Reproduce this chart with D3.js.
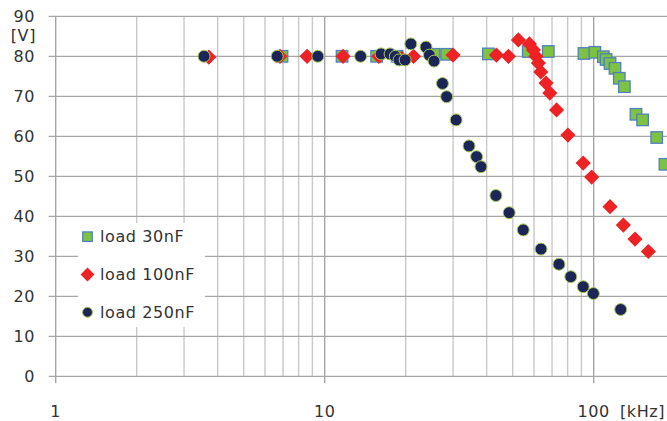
<!DOCTYPE html>
<html>
<head>
<meta charset="utf-8">
<script src="https://cdn.jsdelivr.net/npm/d3@7"></script>
<style>
    body { margin: 0; background: #fff; }
    svg { display: block; font-family: "DejaVu Sans", Verdana, sans-serif; }
    text { font-size: 16px; fill: #333; letter-spacing: 0.6px; }
</style>
</head>
<body>
<svg id="graph" width="667" height="421"></svg>
<script>
// frequency [kHz] / voltage [V] per load
const freq30 = [6.94, 11.6, 15.6, 18.6, 25.5, 28.4, 40.6, 57.1, 67.8, 92, 101, 108.6, 111.2, 115, 120, 124.5, 130, 143.6, 152, 171.5, 184];
const volt30 = [80, 80, 80, 80, 80.5, 80.5, 80.6, 81.2, 81.2, 80.7, 81, 79.9, 79.2, 78.2, 77, 74.5, 72.4, 65.5, 64.1, 59.7, 53];

const freq100 = [3.71, 6.82, 8.6, 11.7, 15.9, 19.3, 21.4, 30, 43.5, 48.2, 52.5, 57.7, 59.7, 61, 62.3, 63.6, 66.5, 68.7, 72.8, 80.2, 91.4, 98.3, 115, 128.9, 142.4, 159.7];
const volt100 = [79.8, 80, 80, 80, 80, 79.5, 80, 80.3, 80.3, 80, 84.1, 83.1, 81.6, 80, 78.3, 76.1, 73.3, 70.8, 66.6, 60.3, 53.3, 49.8, 42.4, 37.8, 34.3, 31.2];

const freq250 = [3.56, 6.66, 9.43, 13.6, 16.2, 17.5, 18.3, 18.9, 19.9, 20.9, 23.8, 24.5, 25.5, 27.4, 28.4, 30.8, 34.4, 36.7, 38.1, 43.3, 48.5, 54.7, 63.7, 74.3, 82.2, 91.4, 99.7, 126];
const volt250 = [80, 80, 80, 80, 80.6, 80.6, 80, 79.1, 79.1, 83.1, 82.3, 80.3, 78.8, 73.2, 69.9, 64.1, 57.6, 54.9, 52.4, 45.2, 40.9, 36.6, 31.8, 28, 24.9, 22.4, 20.7, 16.7];

const seriesNames = ['load 30nF', 'load 100nF', 'load 250nF'];
const xTickLabels = [1, 10, 100];
const yTicks = [0, 10, 20, 30, 40, 50, 60, 70, 80, 90];

(function () {
    let svg = d3.select('#graph');
    let x0 = 55.7, decade = 269;

    let position = {
        x: d3.scaleLog().domain([1, 1000]).range([x0, x0 + decade * 3]),
        y: d3.scaleLinear().domain([0, 90]).range([376.3, 16.3])
    };

    let series = [
        { name: seriesNames[0], shape: 'square', values: freq30.map((f, i) => ({ f: f, v: volt30[i] })) },
        { name: seriesNames[1], shape: 'diamond', values: freq100.map((f, i) => ({ f: f, v: volt100[i] })) },
        { name: seriesNames[2], shape: 'circle', values: freq250.map((f, i) => ({ f: f, v: volt250[i] })) }
    ];

    // minor / major vertical grid
    let minor = [];
    [1, 10, 100].forEach(d => { for (let k = 2; k <= 9; ++k) minor.push(d * k); });

    svg.append('g').selectAll('line')
        .data(minor)
        .enter().append('line')
        .attr('x1', d => position.x(d)).attr('x2', d => position.x(d))
        .attr('y1', position.y(90)).attr('y2', position.y(0))
        .style('stroke', '#c8c8c8')
        .style('stroke-width', '1.4px')
    ;

    svg.append('g').selectAll('line')
        .data(yTicks)
        .enter().append('line')
        .attr('x1', x0 - 7).attr('x2', 667)
        .attr('y1', d => position.y(d)).attr('y2', d => position.y(d))
        .style('stroke', '#a6a6a6')
        .style('stroke-width', '1.2px')
    ;

    svg.append('g').selectAll('line')
        .data(xTickLabels)
        .enter().append('line')
        .attr('x1', d => position.x(d)).attr('x2', d => position.x(d))
        .attr('y1', position.y(90)).attr('y2', position.y(0) + 7)
        .style('stroke', '#a6a6a6')
        .style('stroke-width', '1.4px')
    ;

    // y labels
    svg.append('g').selectAll('text')
        .data(yTicks)
        .enter().append('text')
        .attr('x', 35)
        .attr('y', d => position.y(d))
        .attr('dy', '0.36em')
        .attr('text-anchor', 'end')
        .text(d => d)
    ;
    svg.append('text')
        .attr('x', 36).attr('y', 35).attr('dy', '0.36em')
        .attr('text-anchor', 'end')
        .text('[V]')
    ;

    // x labels
    svg.append('g').selectAll('text')
        .data(xTickLabels)
        .enter().append('text')
        .attr('x', d => position.x(d))
        .attr('y', 411)
        .attr('dy', '0.36em')
        .attr('text-anchor', 'middle')
        .text(d => d)
    ;
    svg.append('text')
        .attr('x', 620).attr('y', 411).attr('dy', '0.36em')
        .text('[kHz]')
    ;

    // markers
    function marker(sel, shape, s) {
        if (shape === 'square') {
            sel.append('rect')
                .attr('x', -s / 2).attr('y', -s / 2)
                .attr('width', s).attr('height', s)
                .style('fill', '#7dc242')
                .style('stroke', '#4f81bd')
                .style('stroke-width', '1.3px')
            ;
        } else if (shape === 'diamond') {
            sel.append('path')
                .attr('d', `M0,${-s * 0.66}L${s * 0.66},0L0,${s * 0.66}L${-s * 0.66},0Z`)
                .style('fill', '#ed2224')
            ;
        } else {
            sel.append('circle')
                .attr('r', s * 0.52)
                .style('fill', '#1b2657')
                .style('stroke', '#a6c85a')
                .style('stroke-width', '1px')
            ;
        }
    }

    series.forEach(s => {
        let pts = svg.append('g').selectAll('g')
            .data(s.values)
            .enter().append('g')
            .attr('transform', d => `translate(${position.x(d.f)},${position.y(d.v)})`)
        ;
        marker(pts, s.shape, 11.5);
    });

    // legend
    let legend = svg.append('g');
    legend.append('rect')
        .attr('x', 78).attr('y', 223)
        .attr('width', 127).attr('height', 104)
        .style('fill', '#fff')
    ;
    let item = legend.selectAll('g')
        .data(series)
        .enter().append('g')
        .attr('transform', (d, i) => `translate(87.5,${236.7 + i * 37.8})`)
    ;
    item.each(function (d) { marker(d3.select(this), d.shape, d.shape === 'diamond' ? 10.5 : 9.5); });
    item.append('text')
        .attr('x', 12.5)
        .attr('dy', '0.36em')
        .text(d => d.name)
    ;
}());
</script>
</body>
</html>
